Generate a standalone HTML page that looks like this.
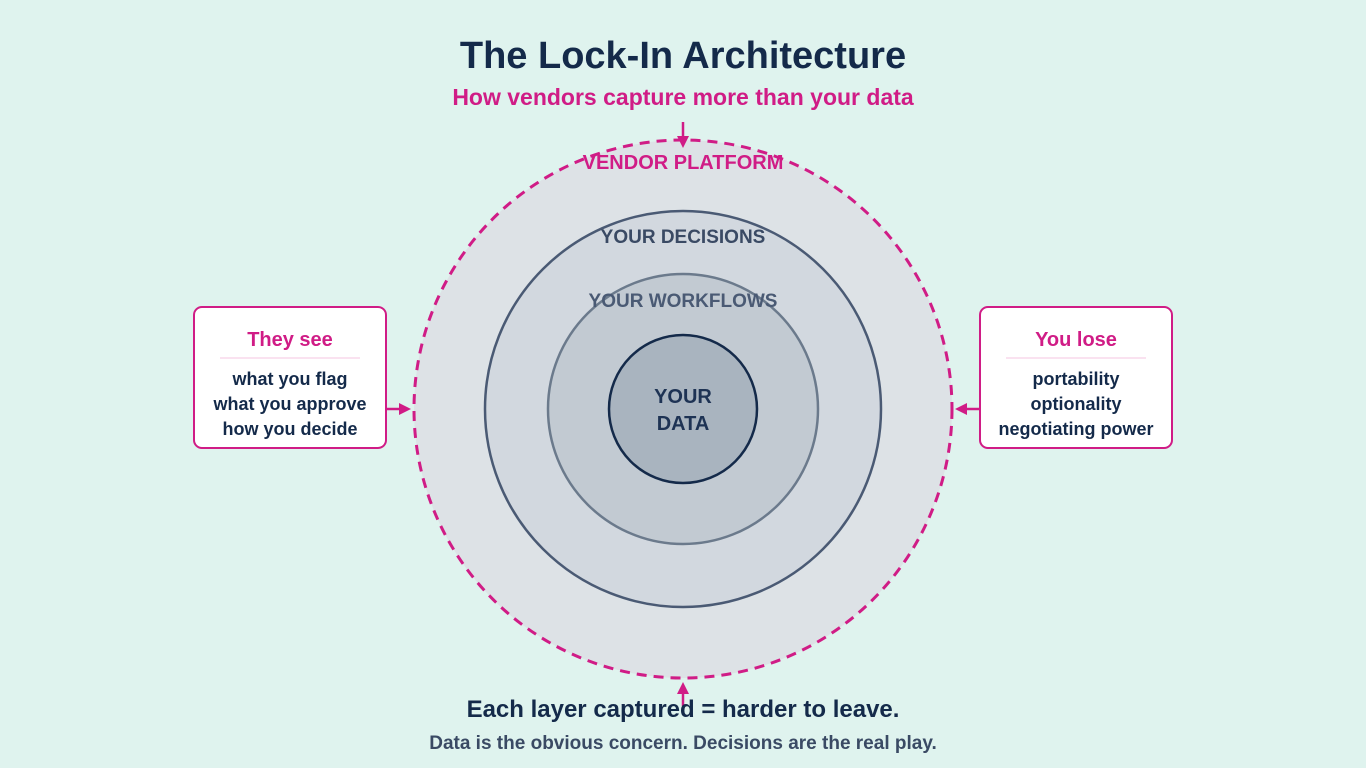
<!DOCTYPE html>
<html><head><meta charset="utf-8"><style>
html,body{margin:0;padding:0;background:#dff3ee;}
svg{display:block}
text{font-family:"Liberation Sans",Arial,sans-serif;font-weight:bold}
</style></head><body>
<svg width="1366" height="768" viewBox="0 0 1366 768" xmlns="http://www.w3.org/2000/svg">
<rect width="1366" height="768" fill="#dff3ee"/>
<text x="683" y="68" text-anchor="middle" font-size="38" fill="#142a4a">The Lock-In Architecture</text>
<text x="683" y="105" text-anchor="middle" font-size="23" fill="#d01c86">How vendors capture more than your data</text>

<circle cx="683" cy="409" r="269" fill="#dde2e6" stroke="#d01c86" stroke-width="3" stroke-dasharray="10,7"/>
<circle cx="683" cy="409" r="198" fill="#d2d8df" stroke="#4a5a74" stroke-width="2.5"/>
<circle cx="683" cy="409" r="135" fill="#c2cad2" stroke="#6b7a8c" stroke-width="2.5"/>
<circle cx="683" cy="409" r="74" fill="#a9b4bf" stroke="#142a4a" stroke-width="2.5"/>

<text x="683" y="169" text-anchor="middle" font-size="20" fill="#d01c86">VENDOR PLATFORM</text>
<text x="683" y="243" text-anchor="middle" font-size="19" fill="#3a4a64">YOUR DECISIONS</text>
<text x="683" y="307" text-anchor="middle" font-size="19" fill="#4a5a74">YOUR WORKFLOWS</text>
<text x="683" y="403" text-anchor="middle" font-size="20" fill="#1e3354">YOUR</text>
<text x="683" y="430" text-anchor="middle" font-size="20" fill="#1e3354">DATA</text>

<!-- arrows -->
<g stroke="#d01c86" stroke-width="2.5" fill="#d01c86">
<line x1="683" y1="122" x2="683" y2="138"/>
<polygon points="677,136 689,136 683,148" stroke="none"/>
<line x1="683" y1="706" x2="683" y2="692"/>
<polygon points="677,694 689,694 683,682" stroke="none"/>
<line x1="386" y1="409" x2="400" y2="409"/>
<polygon points="399,403 399,415 411,409" stroke="none"/>
<line x1="980" y1="409" x2="966" y2="409"/>
<polygon points="967,403 967,415 955,409" stroke="none"/>
</g>

<!-- left box -->
<rect x="194" y="307" width="192" height="141" rx="8" fill="#ffffff" stroke="#d01c86" stroke-width="2"/>
<text x="290" y="346" text-anchor="middle" font-size="20" fill="#d01c86">They see</text>
<line x1="220" y1="358" x2="360" y2="358" stroke="#f6c4e2" stroke-width="1"/>
<text x="290" y="385" text-anchor="middle" font-size="18" fill="#142a4a">what you flag</text>
<text x="290" y="410" text-anchor="middle" font-size="18" fill="#142a4a">what you approve</text>
<text x="290" y="435" text-anchor="middle" font-size="18" fill="#142a4a">how you decide</text>

<!-- right box -->
<rect x="980" y="307" width="192" height="141" rx="8" fill="#ffffff" stroke="#d01c86" stroke-width="2"/>
<text x="1076" y="346" text-anchor="middle" font-size="20" fill="#d01c86">You lose</text>
<line x1="1006" y1="358" x2="1146" y2="358" stroke="#f6c4e2" stroke-width="1"/>
<text x="1076" y="385" text-anchor="middle" font-size="18" fill="#142a4a">portability</text>
<text x="1076" y="410" text-anchor="middle" font-size="18" fill="#142a4a">optionality</text>
<text x="1076" y="435" text-anchor="middle" font-size="18" fill="#142a4a">negotiating power</text>

<text x="683" y="717" text-anchor="middle" font-size="24" fill="#142a4a">Each layer captured = harder to leave.</text>
<text x="683" y="749" text-anchor="middle" font-size="19" fill="#3a4a64">Data is the obvious concern. Decisions are the real play.</text>
</svg>
</body></html>
